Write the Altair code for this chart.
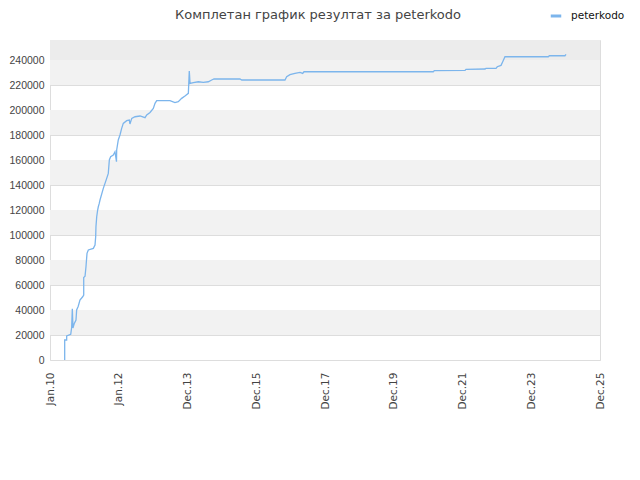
import altair as alt
import pandas as pd

dates = [
    "2010-06-06", "2010-06-06", "2010-06-27", "2010-06-27", "2010-08-09", "2010-08-19",
    "2010-08-26", "2010-09-02", "2010-09-16", "2010-10-04", "2010-10-11", "2010-10-28",
    "2010-11-15", "2010-12-14", "2010-12-25", "2010-12-25", "2011-01-08", "2011-01-18",
    "2011-01-29", "2011-02-12", "2011-04-06", "2011-04-24", "2011-05-01", "2011-05-04",
    "2011-05-12", "2011-05-22", "2011-05-29", "2011-06-08", "2011-06-16", "2011-07-21",
    "2011-08-26", "2011-09-12", "2011-09-23", "2011-10-07", "2011-11-04", "2011-11-22",
    "2011-12-08", "2011-12-10", "2011-12-27", "2012-01-14", "2012-02-01", "2012-02-18",
    "2012-03-25", "2012-04-22", "2012-04-29", "2012-05-18", "2012-06-22", "2012-08-14",
    "2012-10-06", "2012-10-24", "2012-11-28", "2013-01-02", "2013-01-20", "2013-02-07",
    "2013-06-28", "2013-08-20", "2013-09-24", "2013-10-30", "2013-12-04", "2014-01-09",
    "2014-01-19", "2014-01-27", "2014-03-03", "2014-04-25", "2014-06-17", "2014-08-09",
    "2014-09-14", "2014-10-08", "2015-07-11", "2015-07-30", "2016-10-31", "2016-11-18",
    "2016-12-23", "2017-02-14", "2017-04-09", "2017-05-07", "2017-05-21", "2021-02-22",
    "2021-03-05", "2022-01-25", "2022-02-04", "2022-08-25", "2022-09-04", "2022-12-20",
    "2023-01-02", "2023-02-11", "2023-03-01", "2023-03-25", "2024-06-27", "2024-07-08",
    "2024-12-21", "2025-01-01",
]
scores = [
    0, 16000, 16000, 19200, 20500, 26000,
    41000, 25600, 29300, 32000, 40000, 43000,
    48000, 50600, 52000, 66000, 67000, 74600,
    85300, 88000, 89300, 92000, 98600, 106600,
    114600, 120000, 122600, 125300, 128000, 137300,
    145300, 149300, 160000, 162600, 164000, 166600,
    158600, 168000, 176000, 180000, 185300, 189300,
    191500, 192000, 188800, 193300, 194600, 195200,
    193900, 196000, 198000, 201300, 205300, 207500,
    207500, 205900, 206700, 209300, 211200, 213300,
    231200, 221300, 221900, 222600, 222100, 222600,
    224000, 224800, 224800, 224000, 224000, 226600,
    228300, 229300, 230100, 229300, 230600, 230600,
    231500, 231700, 232500, 232800, 233300, 233300,
    234600, 235700, 238600, 242600, 242600, 243400,
    243400, 244500,
]
series_name = "peterkodo"
title_text = "Комплетан график резултат за peterkodo"

tick_dates = [(2010, 1, 1), (2012, 1, 1), (2013, 12, 31), (2015, 12, 31), (2017, 12, 30),
              (2019, 12, 30), (2021, 12, 29), (2023, 12, 29), (2025, 12, 28)]
y_ticks = list(range(0, 240001, 20000))
band_lo = [20000, 60000, 100000, 140000, 180000, 220000]
band_hi = [40000, 80000, 120000, 160000, 200000, 240000]
top_lo, top_hi = 240000, 256000

df = pd.DataFrame({"date": dates, "score": scores, "series": series_name})
bands = pd.DataFrame({"lo": band_lo + [top_lo], "hi": band_hi + [top_hi],
                      "c": ["#f2f2f2"] * len(band_lo) + ["#ececec"]})
title_df = pd.DataFrame({"t": [title_text]})

dt = lambda t: alt.DateTime(year=t[0], month=t[1], date=t[2])
xscale = alt.Scale(domain=[dt(tick_dates[0]), dt(tick_dates[-1])])
yscale = alt.Scale(domain=[0, top_hi], nice=False)
yaxis = alt.Axis(values=y_ticks, title=None, format="d", labelOverlap=False,
                 grid=True, gridColor="#dddddd", ticks=False, domain=False, labelPadding=6,
                 labelFont="Liberation Sans", labelFontSize=10.5, labelColor="#444")

band_layer = alt.Chart(bands).mark_rect().encode(
    x=alt.value(0), x2=alt.value("width"),
    y=alt.Y("lo:Q", scale=yscale, axis=yaxis),
    y2="hi:Q",
    fill=alt.Fill("c:N", scale=None, legend=None),
)

line = alt.Chart(df).mark_line(strokeWidth=1.3, interpolate="linear").encode(
    x=alt.X("date:T", scale=xscale,
            axis=alt.Axis(values=[dt(t) for t in tick_dates], format="%b.%y", title=None,
                          labelAngle=270, labelAlign="right", labelBaseline="middle",
                          labelFont="DejaVu Sans", labelFontSize=10.5, labelOverlap=False,
                          labelColor="#444",
                          ticks=False, domain=False, grid=False, labelPadding=12)),
    y=alt.Y("score:Q", scale=yscale, axis=yaxis),
    color=alt.Color("series:N", scale=alt.Scale(range=["#7cb5ec"]),
                    legend=alt.Legend(title=None, orient="none", legendX=499, legendY=-31,
                                      symbolType="stroke", symbolStrokeWidth=3, symbolSize=110,
                                      labelOffset=8,
                                      labelFontSize=10.5, labelColor="#111", labelFont="DejaVu Sans")),
)

title_layer = alt.Chart(title_df).mark_text(
    align="center", baseline="alphabetic", font="DejaVu Sans", fontSize=13, color="#444",
).encode(x=alt.value(268), y=alt.value(-21), text="t:N")

chart = alt.layer(band_layer, line, title_layer).properties(
    width=550, height=320,
    autosize=alt.AutoSizeParams(type="none"),
    padding={"left": 42, "top": 32, "right": 32, "bottom": 112},
).configure_view(stroke="#dddddd").configure_axisY(labelOverlap=False)

chart.save("out.html", embed_options={"renderer": "svg", "actions": False})
